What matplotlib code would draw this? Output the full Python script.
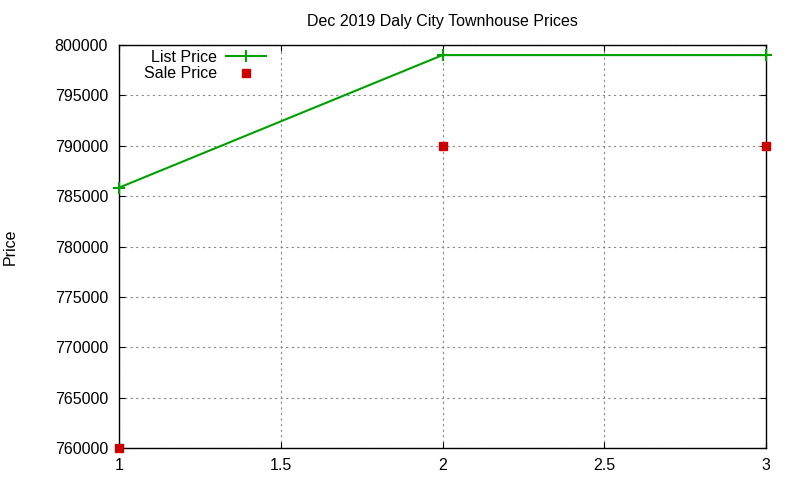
import matplotlib
matplotlib.use("Agg")
import matplotlib.pyplot as plt
from matplotlib.ticker import FormatStrFormatter

plt.rcParams['font.family'] = ['Liberation Sans', 'DejaVu Sans']

# data
x = [1, 2, 3]
list_price = [785850, 799000, 799000]
sale_price = [760000, 790000, 790000]

fig = plt.figure(figsize=(8, 4.8), dpi=100)
ax = fig.add_axes([0.149, 0.0667, 0.8085, 0.8395])

ax.plot(x, list_price, color='#00a000', lw=1.5, marker='+', ms=8, mew=1.5,
        label='List Price', clip_on=False, zorder=3)
ax.plot(x, sale_price, ls='none', color='#cc0000', marker='s', ms=6,
        label='Sale Price', clip_on=False, zorder=3)

ax.set_xlim(1, 3)
ax.set_ylim(760000, 800000)
ax.set_xticks([1, 1.5, 2, 2.5, 3])
ax.set_yticks(range(760000, 800001, 5000))
ax.xaxis.set_major_formatter(FormatStrFormatter('%g'))
ax.yaxis.set_major_formatter(FormatStrFormatter('%d'))
ax.tick_params(direction='in', top=True, right=True, labelsize=11.5, length=4)
ax.tick_params(axis='y', pad=8)
ax.tick_params(axis='x', pad=7)
ax.grid(True, ls=(0, (2, 3)), color='#888888', lw=0.8)
for s in ax.spines.values():
    s.set_linewidth(1)

ax.set_title('Dec 2019 Daly City Townhouse Prices', fontsize=11.5, pad=14)
ax.set_ylabel('Price', fontsize=11.5)
ax.yaxis.set_label_coords(-0.157, 0.5)

ax.legend(loc='upper left', markerfirst=False, frameon=False, fontsize=11.5,
          handlelength=2.5, handletextpad=0.6, borderaxespad=0.0,
          labelspacing=0.1, bbox_to_anchor=(0.028, 1.004))

fig.savefig('out.png', dpi=100)
